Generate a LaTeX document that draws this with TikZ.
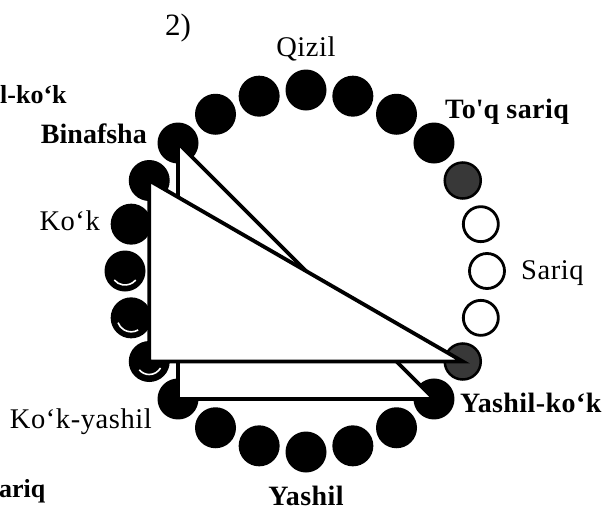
\documentclass[tikz,border=0pt]{standalone}
\usepackage{fontspec}
\setmainfont{Liberation Serif}
\begin{document}
\begin{tikzpicture}[x=1pt,y=-1pt,
  bd/.style={circle,fill=black,minimum size=41pt,inner sep=0pt},
  td/.style={circle,fill=black!78,draw=black,line width=2.5pt,minimum size=36pt,inner sep=0pt},
  wd/.style={circle,fill=white,draw=black,line width=2.8pt,minimum size=35pt,inner sep=0pt},
  tri/.style={fill=white,draw=black,line width=3.8pt},
  crescent/.style={draw=white,line width=1.6pt},
  lbl/.style={inner sep=0pt,font=\fontsize{28.5}{31}\selectfont\addfontfeatures{LetterSpace=2}},
  blbl/.style={inner sep=0pt,font=\fontsize{28}{31}\selectfont\bfseries\addfontfeatures{LetterSpace=1.5}},
  edgelbl/.style={inner sep=0pt,font=\fontsize{26}{29}\selectfont\bfseries}]
\useasboundingbox (0,0) rectangle (606,512);
\clip (0,0) rectangle (606,512);
% ring of 24 circles
\foreach \k/\s in {1/bd,2/bd,3/bd,4/bd,5/td,6/wd,7/wd,8/wd,9/td,10/bd,11/bd,12/bd,
                   13/bd,14/bd,15/bd,16/bd,17/bd,18/bd,19/bd,20/bd,21/bd,22/bd,23/bd,24/bd}{
  \pgfmathsetmacro\a{90-15*(\k-1)}
  \node[\s] (c\k) at ({306+181*cos(\a)},{271-181*sin(\a)}) {};
}
% white crescents on lower-left circles
\draw[crescent] ([shift={(40:14)}]c19.center) arc[start angle=40,end angle=140,radius=14];
\draw[crescent] ([shift={(60:14)}]c18.center) arc[start angle=60,end angle=160,radius=14];
\draw[crescent] ([shift={(30:13)}]c17.center) arc[start angle=30,end angle=140,radius=13];
% triangles
\filldraw[tri] (c22.center) -- (c16.center) -- (c10.center) -- cycle;
\filldraw[tri] (c21.center) -- (c17.center) -- (c9.center) -- cycle;
% labels
\node[inner sep=0pt,font=\fontsize{31}{34}\selectfont,anchor=base] (t2) at (178,35) {2)};
\node[lbl,anchor=base] (lq) at (306,56) {Qizil};
\node[blbl,anchor=base west] (lts) at (445,118) {To\textquotesingle q sariq};
\node[blbl,anchor=base east,font=\fontsize{28}{31}\selectfont\bfseries] (lb) at (147,143) {Binafsha};
\node[lbl,anchor=base east] (lk) at (100,230) {Ko‘k};
\node[lbl,anchor=base west] (ls) at (521,279) {Sariq};
\node[lbl,anchor=base east] (lky) at (152,428) {Ko‘k-yashil};
\node[blbl,anchor=base] (ly) at (306,505) {Yashil};
\node[blbl,anchor=base west] (lyk) at (460,412) {Yashil-ko‘k};
\node[edgelbl,anchor=base west] (lyk0) at (0,103) {l-ko‘k};
\node[edgelbl,anchor=base west] (ls0) at (-1,497) {ariq};
\end{tikzpicture}
\end{document}
